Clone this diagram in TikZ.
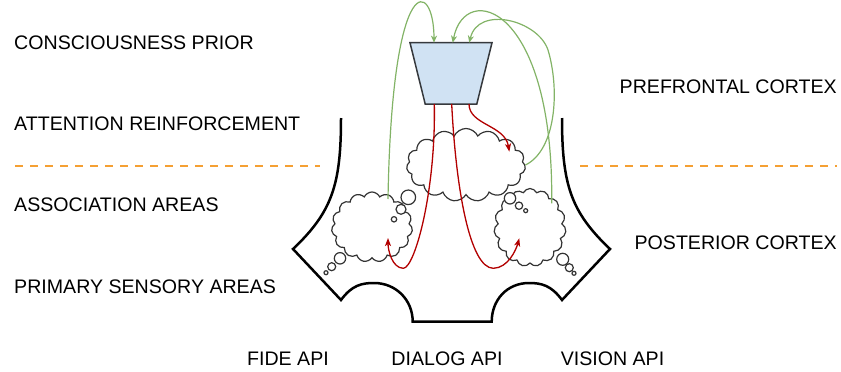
\documentclass[tikz,border=0pt]{standalone}
\usepackage{fontspec}
\setmainfont{Liberation Sans}
\usetikzlibrary{shapes.geometric,shapes.symbols,arrows.meta,calc}
\definecolor{feedgreen}{HTML}{82B366}
\definecolor{signalred}{HTML}{B20000}
\definecolor{priorfill}{HTML}{D0E2F3}
\definecolor{priordraw}{HTML}{36393D}
\definecolor{layerorange}{HTML}{F5A033}
\tikzset{
  areatext/.style={inner sep=0pt,font=\fontsize{19.6}{22}\selectfont},
  thought/.style={cloud,cloud puffs=15,cloud puff arc=130,draw=black!80,line width=1.2pt,inner sep=0pt},
  bubble/.style={circle,draw=black!80,fill=white,line width=1.2pt,inner sep=0pt},
  feedback/.style={draw=feedgreen,line width=1.2pt,-{Stealth[length=7pt,width=6pt,inset=2pt]}},
  signal/.style={draw=signalred,line width=1.3pt,-{Stealth[length=8pt,width=6pt,inset=2pt]}},
  layerline/.style={draw=layerorange,line width=2pt,dash pattern=on 8pt off 7pt}
}

\begin{document}
\begin{tikzpicture}[x=1pt,y=-1pt]
    \useasboundingbox (0,0) rectangle (841,372);

    \node[areatext,anchor=west] (consc) at (14,42.5) {CONSCIOUSNESS PRIOR};
    \node[areatext,anchor=west] (attn) at (14,124) {ATTENTION REINFORCEMENT};
    \node[areatext,anchor=west] (assoc) at (14,205) {ASSOCIATION AREAS};
    \node[areatext,anchor=west] (primary) at (14,286.7) {PRIMARY SENSORY AREAS};
    \node[areatext,anchor=east] (prefrontal) at (837,86.7) {PREFRONTAL CORTEX};
    \node[areatext,anchor=east] (posterior) at (837,242.7) {POSTERIOR CORTEX};
    \node[areatext] (fide) at (288,359) {FIDE API};
    \node[areatext] (dialog) at (447,359) {DIALOG API};
    \node[areatext] (vision) at (612.5,359) {VISION API};

    \draw[layerline] (15,165.7) -- (320,165.7);
    \draw[layerline] (580,165.7) -- (837,165.7);

    \draw[line width=2.5pt,line join=miter] (341,118) .. controls (341,185) and (332,212) .. (293,249)
        -- (341,300) .. controls (352,285) and (362,283) .. (374,283)
        .. controls (396,283) and (412.7,300) .. (412.7,321.7) -- (491.7,321.7)
        .. controls (491.7,300) and (507,283) .. (529,283)
        .. controls (541,283) and (551,285) .. (562,300) -- (610,249)
        .. controls (571,212) and (562,185) .. (562,118);

    \coordinate (prior) at (451,73.35);
    \draw[draw=priordraw,fill=priorfill,line width=1.5pt] ($(prior)+(-41,-30.65)$) -- ($(prior)+(41,-30.65)$)
        -- ($(prior)+(25.8,30.65)$) -- ($(prior)+(-25.8,30.65)$) -- cycle;

    \node[thought,minimum width=119pt,minimum height=73pt,aspect=1.63] (cmid) at (466,165) {};
    \node[thought,minimum width=81pt,minimum height=70pt,aspect=1.16] (cleft) at (372,227) {};
    \node[thought,minimum width=72pt,minimum height=78pt,aspect=0.92] (cright) at (530,227.5) {};

    \node[bubble,minimum size=14.6pt] (lb1) at (408.3,197.3) {};
    \node[bubble,minimum size=10pt] (lb2) at (401,209.3) {};
    \node[bubble,minimum size=5.4pt] (lb3) at (394,219.3) {};
    \node[bubble,minimum size=11.4pt] (lb4) at (340,258.3) {};
    \node[bubble,minimum size=8pt] (lb5) at (331.7,266.7) {};
    \node[bubble,minimum size=4pt] (lb6) at (326,272.7) {};
    \node[bubble,minimum size=11.4pt] (rb1) at (510,198.3) {};
    \node[bubble,minimum size=7.4pt] (rb2) at (519,205.7) {};
    \node[bubble,minimum size=4pt] (rb3) at (525.7,210.7) {};
    \node[bubble,minimum size=12pt] (rb4) at (562.7,259.3) {};
    \node[bubble,minimum size=8pt] (rb5) at (569.3,267.7) {};
    \node[bubble,minimum size=4pt] (rb6) at (574,273.3) {};

    \draw[feedback] ($(cleft.center)+(16,-28)$) .. controls (392,-35) and (434,-20) .. ($(prior)+(-17,-30.65)$);
    \draw[feedback] (cmid.east) .. controls (556,150) and (560,90) .. (548,50)
        .. controls (538,20) and (478,5) .. ($(prior)+(18.3,-30.65)$);
    \draw[feedback] ($(cright.center)+(21.7,-24.2)$) .. controls (554,5) and (465,-20) .. ($(prior)+(1.7,-30.65)$);

    \draw[signal] ($(prior)+(-16.7,30.65)$) .. controls (436,190) and (415,268) .. (403.3,268.3)
        .. controls (392,268) and (388,250) .. ($(cleft.center)+(16,11)$);
    \draw[signal] ($(prior)+(0.7,30.65)$) .. controls (456,190) and (470,268) .. (493.3,268.3)
        .. controls (508,268) and (516,250) .. ($(cright.center)+(-10.7,10.8)$);
    \draw[signal] ($(prior)+(18,30.65)$) .. controls (469,125) and (505,125) .. ($(cmid.center)+(43.3,-13.3)$);
\end{tikzpicture}
\end{document}
